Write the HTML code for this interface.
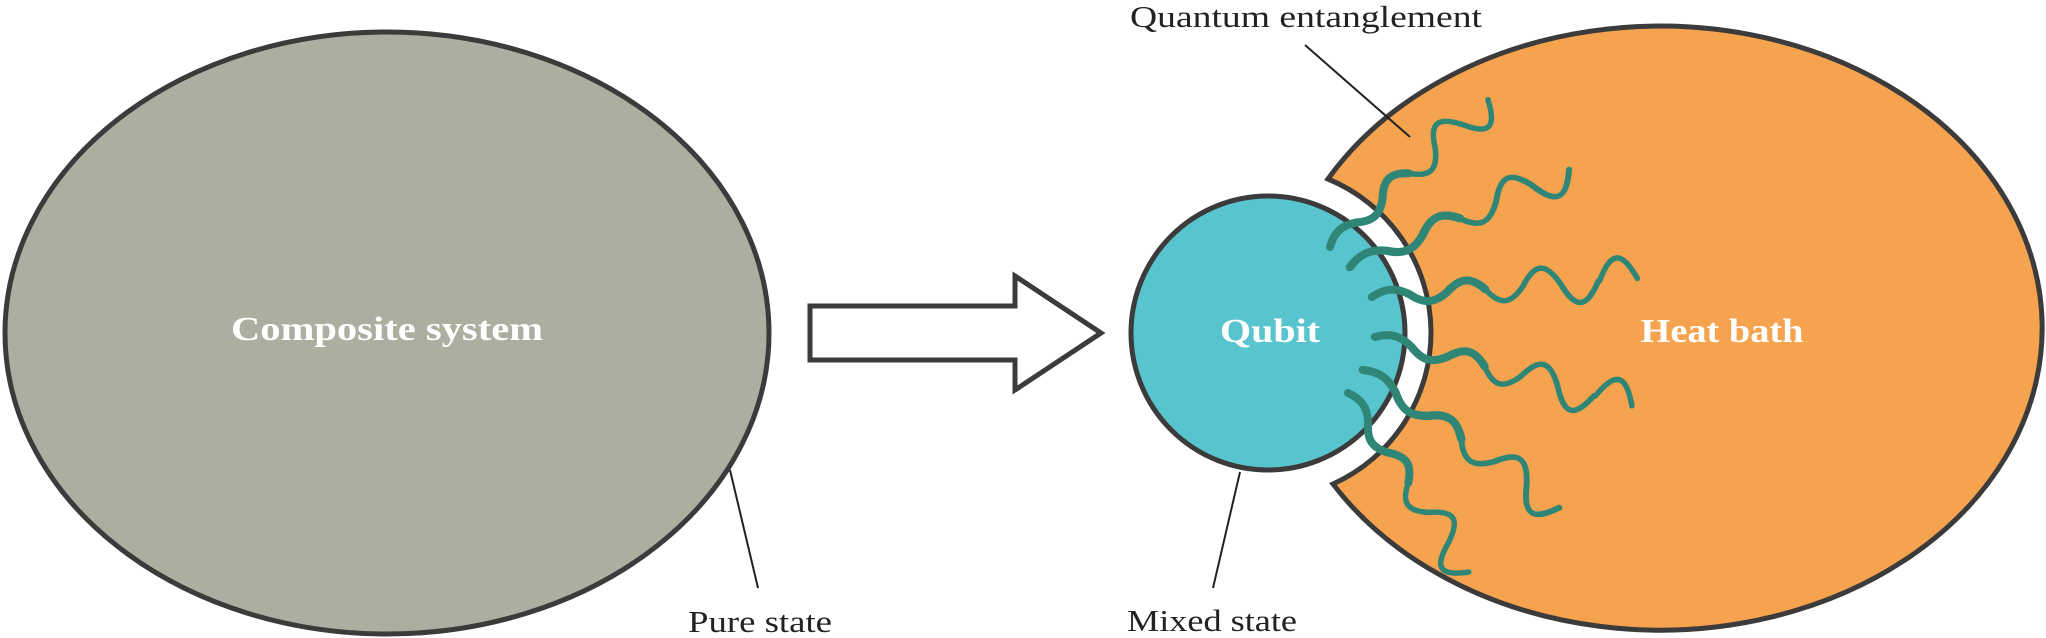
<!DOCTYPE html>
<html><head><meta charset="utf-8"><style>
html,body{margin:0;padding:0;background:#fff;}
svg{display:block;}
</style></head><body>
<svg width="2046" height="638" viewBox="0 0 2046 638" xmlns="http://www.w3.org/2000/svg">
<ellipse cx="387" cy="333" rx="382" ry="301" fill="#adada0" stroke="#3b3b3b" stroke-width="5"/>
<text x="387" y="340" text-anchor="middle" font-family="Liberation Serif, serif" font-weight="bold" font-size="34" fill="#fff" textLength="312" lengthAdjust="spacingAndGlyphs">Composite system</text>
<line x1="730" y1="470" x2="758" y2="588" stroke="#222" stroke-width="2"/>
<text x="688" y="632" font-family="Liberation Serif, serif" font-size="31" fill="#222" textLength="144" lengthAdjust="spacingAndGlyphs">Pure state</text>
<path d="M810,306 L1015,306 L1015,276 L1101,333 L1015,390 L1015,360 L810,360 Z" fill="#fff" stroke="#3b3b3b" stroke-width="5" stroke-linejoin="miter"/>
<path d="M1328,179 A382 302 0 1 1 1333,484 A166 166 0 0 0 1328,179 Z" fill="#f5a34e" stroke="#3b3b3b" stroke-width="5"/>
<circle cx="1268" cy="333" r="137" fill="#58c4cd" stroke="#3b3b3b" stroke-width="5"/>
<text x="1270" y="342" text-anchor="middle" font-family="Liberation Serif, serif" font-weight="bold" font-size="34" fill="#fff" textLength="100" lengthAdjust="spacingAndGlyphs">Qubit</text>
<text x="1722" y="342" text-anchor="middle" font-family="Liberation Serif, serif" font-weight="bold" font-size="34" fill="#fff" textLength="163" lengthAdjust="spacingAndGlyphs">Heat bath</text>
<defs>
<path id="wA" d="M0,0 c13,-8 23,-8 36,0 c13,10.7 23,10.7 36,0 c13,-13.3 23,-13.3 36,0"/>
<path id="wB" d="M108,0 c13,17.3 23,17.3 36,0 c13,-22.7 23,-22.7 36,0 c13,26.7 23,26.7 36,0"/>
</defs>
<g fill="none" stroke="#2f8676" stroke-linecap="round">
<g stroke-width="8">
<use href="#wA" transform="translate(1330,247) rotate(-43)"/>
<use href="#wA" transform="translate(1350,267) rotate(-24) scale(1.11,1)"/>
<use href="#wA" transform="translate(1372,297) rotate(-4) scale(1.05,1)"/>
<use href="#wA" transform="translate(1375,337) rotate(15) scale(1.05,1)"/>
<use href="#wA" transform="translate(1363,370) rotate(35) scale(1.11,1)"/>
<use href="#wA" transform="translate(1348,393) rotate(56)"/>
</g>
<g stroke-width="5.5">
<use href="#wB" transform="translate(1330,247) rotate(-43)"/>
<use href="#wB" transform="translate(1350,267) rotate(-24) scale(1.11,1)"/>
<use href="#wB" transform="translate(1372,297) rotate(-4) scale(1.05,1)"/>
<path transform="translate(1372,297) rotate(-4)" d="M228,0 c13.6,-29.3 24,-29.3 38,0"/>
<use href="#wB" transform="translate(1375,337) rotate(15) scale(1.05,1)"/>
<path transform="translate(1375,337) rotate(15)" d="M228,0 c13.6,-29.3 24,-29.3 38,0"/>
<use href="#wB" transform="translate(1363,370) rotate(35) scale(1.11,1)"/>
<use href="#wB" transform="translate(1348,393) rotate(56)"/>
</g>
</g>
<line x1="1305" y1="45" x2="1410" y2="137" stroke="#222" stroke-width="2"/>
<text x="1130" y="27" font-family="Liberation Serif, serif" font-size="31" fill="#222" textLength="352" lengthAdjust="spacingAndGlyphs">Quantum entanglement</text>
<line x1="1240" y1="472" x2="1213" y2="588" stroke="#222" stroke-width="2"/>
<text x="1127" y="631" font-family="Liberation Serif, serif" font-size="31" fill="#222" textLength="170" lengthAdjust="spacingAndGlyphs">Mixed state</text>
</svg>
</body></html>
